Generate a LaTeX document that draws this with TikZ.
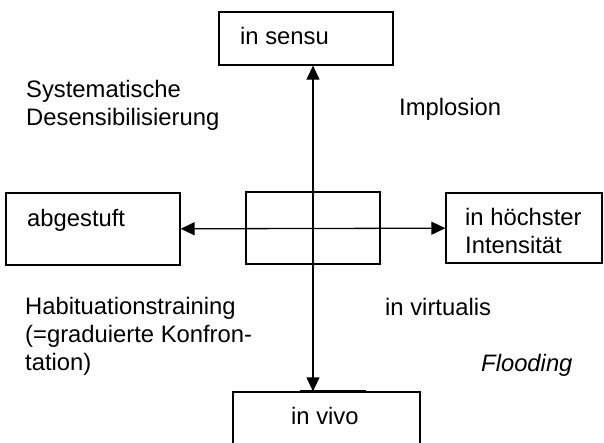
\documentclass[tikz,border=0pt]{standalone}
\usepackage{fontspec}
\setmainfont{Liberation Sans}
\usetikzlibrary{arrows.meta}
\begin{document}
\begin{tikzpicture}[x=1pt,y=-1pt,
  every node/.style={font=\fontsize{23.8}{28}\selectfont},
  boxnode/.style={draw,line width=1.3pt,inner sep=0pt,rectangle},
  lbl/.style={anchor=base west,inner sep=0pt,align=left},
  conn/.style={line width=1.3pt,{Triangle[length=14pt,width=13pt]}-{Triangle[length=14pt,width=13pt]}}]
\useasboundingbox (0,0) rectangle (604,442);
\fill[white] (0,0) rectangle (604,442);
% boxes
\node[boxnode,minimum width=174pt,minimum height=53pt] (sensu) at (306,38.5) {};
\node[boxnode,minimum width=174pt,minimum height=72pt] (abg) at (93,229) {};
\node[boxnode,minimum width=156pt,minimum height=70pt] (hoch) at (524,228) {};
\node[boxnode,minimum width=134pt,minimum height=72pt] (mid) at (313,228) {};
\node[boxnode,minimum width=187pt,minimum height=70pt] (vivo) at (326.5,427) {};
\coordinate (s1) at (300,391);
\coordinate (s2) at (366,391);
\draw[line width=1.3pt] (s1) -- (s2);
% connectors
\draw[conn] (abg) -- (hoch);
\draw[conn] (sensu.south -| mid.center) -- (vivo.north -| mid.center);
% texts (base = baseline of the last line)
\node[lbl] (t1) at (240,44) {in sensu};
\node[lbl] (t2) at (26,125) {Systematische\\Desensibilisierung};
\node[lbl] (t3) at (399,115) {Implosion};
\node[lbl] (t4) at (27,226) {abgestuft};
\node[lbl] (t5) at (465,253) {in höchster\\Intensität};
\node[lbl] (t6) at (25,370) {Habituationstraining\\(=graduierte Konfron-\\tation)};
\node[lbl] (t7) at (385,315) {in virtualis};
\node[lbl] (t8) at (481,371) {\itshape Flooding};
\node[lbl] (t9) at (291,424) {in vivo};
\end{tikzpicture}
\end{document}
